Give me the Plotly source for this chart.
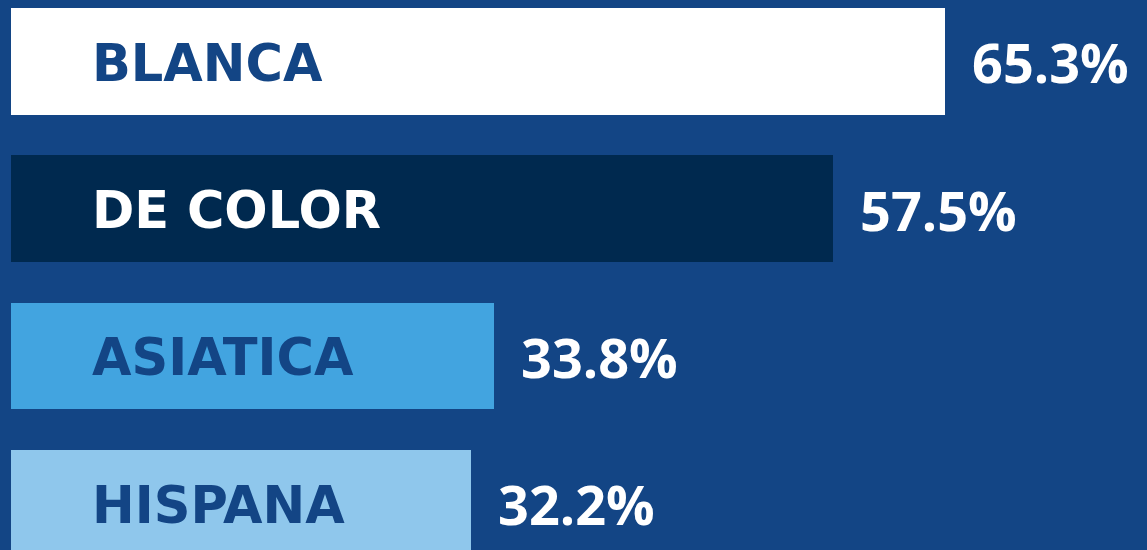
import plotly.graph_objects as go

categories = ["BLANCA", "DE COLOR", "ASIATICA", "HISPANA"]
values = [65.3, 57.5, 33.8, 32.2]
value_labels = ["65.3%", "57.5%", "33.8%", "32.2%"]
bar_colors = ["#ffffff", "#00294f", "#42a4e0", "#8fc7ec"]
label_colors = ["#134585", "#ffffff", "#134585", "#134585"]

BG = "#134585"
W, H = 1147, 550
PX_PER_UNIT_X = 14.3
X0_PX = 11
PITCH = 147.3
FIRST_CENTER_PX = 61.3
BAR_H_PX = 106.5

pos = list(range(len(categories)))

fig = go.Figure()
fig.add_trace(go.Bar(
    y=pos, x=values, orientation="h",
    marker=dict(color=bar_colors, line=dict(width=0)),
    width=BAR_H_PX / PITCH,
    hoverinfo="skip",
))

label_x = (90 - X0_PX) / PX_PER_UNIT_X
annotations = []
for i, (c, v, vl, lc) in enumerate(zip(categories, values, value_labels, label_colors)):
    annotations.append(dict(
        x=label_x, y=i, xref="x", yref="y", text=c, showarrow=False,
        xanchor="left", yanchor="middle", yshift=-2,
        font=dict(family="DejaVu Sans", size=51, color=lc, weight="bold"),
    ))
    annotations.append(dict(
        x=v, y=i, xref="x", yref="y", text=vl, showarrow=False,
        xanchor="left", yanchor="middle", xshift=25, yshift=-1,
        font=dict(family="Open Sans", size=54, color="#ffffff", weight="bold"),
    ))

y_top = -FIRST_CENTER_PX / PITCH
y_bot = y_top + H / PITCH
x_left = -X0_PX / PX_PER_UNIT_X
x_right = x_left + W / PX_PER_UNIT_X

fig.update_layout(
    width=W, height=H,
    margin=dict(l=0, r=0, t=0, b=0),
    paper_bgcolor=BG, plot_bgcolor=BG,
    showlegend=False,
    annotations=annotations,
    xaxis=dict(range=[x_left, x_right], visible=False, fixedrange=True),
    yaxis=dict(range=[y_bot, y_top], visible=False, fixedrange=True),
    bargap=0,
)

fig.write_html(
    "out.html",
    config={"displayModeBar": False},
    post_script="document.body.style.margin='0';document.body.style.background='%s';" % BG,
)
